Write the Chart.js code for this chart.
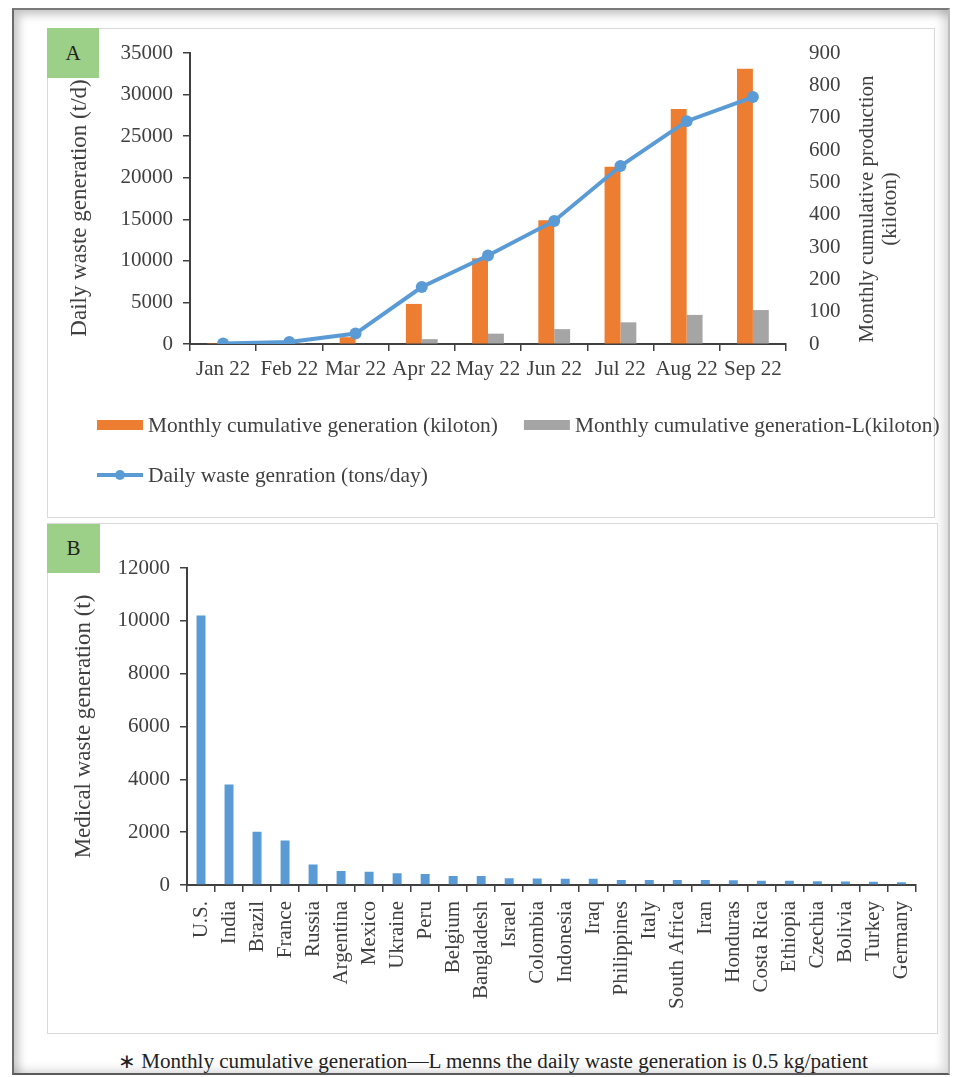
<!DOCTYPE html>
<html>
<head>
<meta charset="utf-8">
<script src="https://cdn.jsdelivr.net/npm/chart.js@4.4.0/dist/chart.umd.min.js"></script>
<style>
  html, body { margin: 0; padding: 0; background: #fff; }
  body { width: 953px; height: 1077px; position: relative; overflow: hidden;
         font-family: 'Liberation Serif', 'Times New Roman', serif; color: #404040; }
  #frame { position: absolute; left: 12px; top: 8px; width: 938px; height: 1067px; box-sizing: border-box;
           border-left: 2px solid #6a6a6a; border-top: 2px solid #7a7a7a; border-right: 2px solid #bdbdbd; border-bottom: 2px solid #5a5a5a;
           box-shadow: inset 5px 5px 8px rgba(0,0,0,0.22), inset -6px -4px 8px rgba(0,0,0,0.12); }
  .panel { position: absolute; border: 1px solid #d9d9d9; box-sizing: border-box; background: #fff; }
  .tag { position: absolute; background: #9ccf87; font-size: 21px; text-align: center; color: #222; }
  canvas { position: absolute; }
  #note { position: absolute; left: 118px; top: 1049px; font-size: 20px; white-space: nowrap; color: #222;
          font-family: 'Liberation Serif', 'Times New Roman', serif; transform-origin: 0 0; }
</style>
</head>
<body>
<div id="frame"></div>
<div class="panel" style="left:47px;top:28px;width:888px;height:490px;"></div>
<div class="panel" style="left:47px;top:523px;width:891px;height:511px;"></div>
<canvas id="chartA" width="904" height="489" style="left:47px;top:28px;"></canvas>
<canvas id="chartB" width="889" height="510" style="left:47px;top:523px;"></canvas>
<div class="tag" style="left:47px;top:28px;width:52px;height:50px;line-height:50px;">A</div>
<div class="tag" style="left:47px;top:524px;width:53px;height:49px;line-height:49px;">B</div>
<div id="note"><span id="noteText">∗ Monthly cumulative generation—L menns the daily waste generation is 0.5 kg/patient</span></div>
<script>
// ---------------- data ----------------
const months = ['Jan 22', 'Feb 22', 'Mar 22', 'Apr 22', 'May 22', 'Jun 22', 'Jul 22', 'Aug 22', 'Sep 22'];
const monthlyGen = [0.3, 1.5, 21, 124, 265, 383, 548, 727, 851];      // kiloton (right axis)
const monthlyGenL = [0, 0.2, 1.5, 15, 32, 46, 67, 90, 105];          // kiloton (right axis)
const dailyWaste = [50, 240, 1250, 6850, 10650, 14800, 21400, 26800, 29700]; // t/d (left axis)
const seriesLabelsA = ['Monthly cumulative generation (kiloton)', 'Monthly cumulative generation-L(kiloton)', 'Daily waste genration (tons/day)'];
const leftTitleA = 'Daily waste generation (t/d)';
const rightTitleA = ['Monthly cumulative production', '(kiloton)'];

const countries = ['U.S.', 'India', 'Brazil', 'France', 'Russia', 'Argentina', 'Mexico', 'Ukraine', 'Peru', 'Belgium',
  'Bangladesh', 'Israel', 'Colombia', 'Indonesia', 'Iraq', 'Philippines', 'Italy', 'South Africa', 'Iran', 'Honduras',
  'Costa Rica', 'Ethiopia', 'Czechia', 'Bolivia', 'Turkey', 'Germany'];
const medicalWaste = [10200, 3800, 2020, 1680, 780, 530, 505, 445, 415, 340,
  340, 255, 250, 235, 240, 190, 190, 190, 190, 180,
  160, 160, 140, 130, 120, 100];
const leftTitleB = 'Medical waste generation (t)';

// ---------------- styles ----------------
const SERIF = "'Liberation Serif', 'Times New Roman', serif";
const TEXT = '#404040';
const AXIS = '#404040';
const ORANGE = '#ED7D31';
const GRAY = '#A5A5A5';
const BLUE = '#5B9BD5';

const plainNum = v => String(v);

// extras for panel A: axis titles (bottom-to-top) and legend
const panelAExtras = {
  id: 'panelAExtras',
  afterDraw(chart) {
    const ctx = chart.ctx;
    ctx.save();
    ctx.fillStyle = TEXT;
    ctx.textAlign = 'center';
    ctx.textBaseline = 'middle';
    ctx.font = "23px " + SERIF;
    ctx.translate(33, 180);
    ctx.rotate(-Math.PI / 2);
    ctx.fillText(leftTitleA, 0, 0);
    ctx.restore();

    ctx.save();
    ctx.fillStyle = TEXT;
    ctx.font = "21px " + SERIF;
    ctx.textAlign = 'center';
    ctx.textBaseline = 'middle';
    ctx.translate(820, 181);
    ctx.rotate(-Math.PI / 2);
    ctx.fillText(rightTitleA[0], 0, 0);
    ctx.fillText(rightTitleA[1], 0, 23);
    ctx.restore();

    // legend
    const ds = chart.data.datasets;
    const rows = [[1, 2], [0]];
    const rowY = [397, 447];
    ctx.save();
    ctx.font = "21.4px " + SERIF;
    ctx.textBaseline = 'middle';
    ctx.textAlign = 'left';
    rows.forEach((row, r) => {
      let x = 50;
      const y = rowY[r];
      row.forEach(i => {
        const d = ds[i];
        if (d.type === 'line') {
          ctx.strokeStyle = d.borderColor;
          ctx.lineWidth = 4;
          ctx.beginPath(); ctx.moveTo(x, y); ctx.lineTo(x + 46, y); ctx.stroke();
          ctx.fillStyle = d.borderColor;
          ctx.beginPath(); ctx.arc(x + 23, y, 5, 0, Math.PI * 2); ctx.fill();
        } else {
          ctx.fillStyle = d.backgroundColor;
          ctx.fillRect(x, y - 5, 46, 10);
        }
        ctx.fillStyle = TEXT;
        ctx.fillText(d.label, x + 51, y + 1);
        x += 51 + ctx.measureText(d.label).width + 26;
      });
    });
    ctx.restore();
  }
};

const tickGrid = { display: true, drawOnChartArea: false, drawTicks: true, tickLength: 7, color: AXIS, lineWidth: 1.5 };

new Chart(document.getElementById('chartA'), {
  type: 'bar',
  data: {
    labels: months,
    datasets: [
      { type: 'line', label: seriesLabelsA[2], data: dailyWaste, yAxisID: 'y', order: 0,
        borderColor: BLUE, backgroundColor: BLUE, borderWidth: 4, tension: 0,
        pointRadius: 6, pointBackgroundColor: BLUE, pointBorderColor: BLUE, pointBorderWidth: 0 },
      { label: seriesLabelsA[0], data: monthlyGen, yAxisID: 'y1', order: 1, backgroundColor: ORANGE,
        categoryPercentage: 0.48, barPercentage: 1.0 },
      { label: seriesLabelsA[1], data: monthlyGenL, yAxisID: 'y1', order: 2, backgroundColor: GRAY,
        categoryPercentage: 0.48, barPercentage: 1.0 }
    ]
  },
  options: {
    responsive: false, animation: false, devicePixelRatio: 1,
    layout: { padding: { left: 0, right: 0, top: 25, bottom: 133 } },
    plugins: { legend: { display: false }, tooltip: { enabled: false } },
    scales: {
      x: {
        offset: true,
        grid: Object.assign({ offset: true }, tickGrid),
        border: { display: true, color: AXIS, width: 2 },
        ticks: { color: TEXT, font: { family: SERIF, size: 21 }, padding: 6, maxRotation: 0, autoSkip: false },
        afterFit(s) { s.height = 40; }
      },
      y: {
        position: 'left', min: 0, max: 35000,
        grid: tickGrid,
        border: { display: true, color: AXIS, width: 2 },
        ticks: { stepSize: 5000, color: TEXT, font: { family: SERIF, size: 21 }, padding: 10, callback: plainNum },
        afterFit(s) { s.width = 143; }
      },
      y1: {
        position: 'right', min: 0, max: 900,
        grid: { display: true, drawOnChartArea: false, drawTicks: true, tickLength: 13, color: 'rgba(0,0,0,0)' },
        border: { display: false },
        ticks: { stepSize: 100, color: TEXT, font: { family: SERIF, size: 21 }, padding: 10, callback: plainNum },
        afterFit(s) { s.width = 165; }
      }
    }
  },
  plugins: [panelAExtras]
});

new Chart(document.getElementById('chartB'), {
  type: 'bar',
  data: {
    labels: countries,
    datasets: [
      { label: leftTitleB, data: medicalWaste, backgroundColor: BLUE, categoryPercentage: 1.0, barPercentage: 0.32 }
    ]
  },
  options: {
    responsive: false, animation: false, devicePixelRatio: 1,
    layout: { padding: { left: 0, right: 19, top: 45, bottom: 0 } },
    plugins: { legend: { display: false }, tooltip: { enabled: false } },
    scales: {
      x: {
        grid: Object.assign({ offset: true }, tickGrid),
        border: { display: true, color: AXIS, width: 2 },
        ticks: { color: TEXT, font: { family: SERIF, size: 21 }, padding: 9, minRotation: 90, maxRotation: 90, autoSkip: false },
        afterFit(s) { s.height = 148; }
      },
      y: {
        min: 0, max: 12000,
        grid: tickGrid,
        border: { display: true, color: AXIS, width: 2 },
        ticks: { stepSize: 2000, color: TEXT, font: { family: SERIF, size: 21 }, padding: 10, callback: plainNum },
        title: { display: true, text: leftTitleB, color: TEXT, font: { family: SERIF, size: 23 }, padding: { top: 23, bottom: 0 } },
        afterFit(s) { s.width = 140; }
      }
    }
  }
});

// fit the footnote to the reference width
(function () {
  const span = document.getElementById('noteText');
  const w = span.getBoundingClientRect().width;
  if (w > 0) document.getElementById('note').style.transform = 'scaleX(' + (750 / w) + ')';
})();
</script>
</body>
</html>
